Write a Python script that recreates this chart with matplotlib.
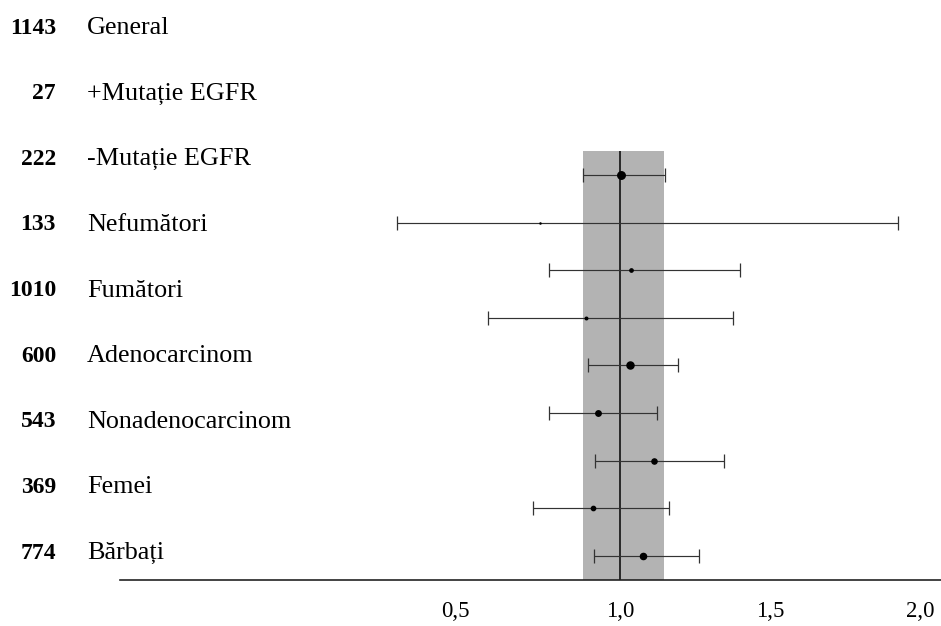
import matplotlib
matplotlib.use("Agg")
import matplotlib.pyplot as plt
import numpy as np

# ---- data ----
categories = ["General", "+Mutație EGFR", "-Mutație EGFR", "Nefumători", "Fumători",
              "Adenocarcinom", "Nonadenocarcinom", "Femei", "Bărbați"]
n_patients = [1143, 27, 222, 133, 1010, 600, 543, 369, 774]
hr = [1.005, 0.733, 1.037, 0.885, 1.033, 0.926, 1.113, 0.911, 1.075]
ci_low = [0.877, 0.256, 0.763, 0.561, 0.893, 0.763, 0.917, 0.710, 0.912]
ci_high = [1.149, 1.925, 1.400, 1.376, 1.192, 1.123, 1.346, 1.162, 1.263]
overall_band = [0.877, 1.147]
tick_values = [0.5, 1.0, 1.5, 2.0]
tick_labels = ["0,5", "1,0", "1,5", "2,0"]

plt.rcParams["font.family"] = ["Liberation Serif", "DejaVu Serif"]

W, H = 941, 626
fig = plt.figure(figsize=(W / 100, H / 100), dpi=100)

# label column axes
lab = fig.add_axes([0, 46 / H, 120 / W, 1 - 46 / H])
lab.set_axis_off()
lab.patch.set_visible(False)
lab.set_xlim(0, 120)
lab.set_ylim(8.41, -0.427)
for j, (cat, n) in enumerate(zip(categories, n_patients)):
    lab.text(56, j, str(n), ha="right", va="center", fontsize=17,
             fontweight="bold", color="black")
    lab.text(87, j, cat, ha="left", va="center", fontsize=18.8, color="black")

# plot axes
ax = fig.add_axes([120 / W, 46 / H, 1 - 120 / W, 1 - 46 / H])
ax.patch.set_visible(False)
xlo = (120 - 620) / 300 + 1
xhi = (941 - 620) / 300 + 1
ax.set_xlim(xlo, xhi)
ybot, ytop = 8.508, -3.676
ax.set_ylim(ybot, ytop)

ax.fill_betweenx([-0.5, ybot], overall_band[0], overall_band[1],
                 color="#b3b3b3", lw=0, zorder=1)
ax.vlines(1.0, -0.5, ybot, color="#111111", lw=1.2, zorder=2)

for i in range(len(categories)):
    ax.errorbar(hr[i], i,
                xerr=[[hr[i] - ci_low[i]], [ci_high[i] - hr[i]]],
                fmt="o", ms=0.16 * np.sqrt(n_patients[i]),
                color="black", ecolor="#333333", elinewidth=0.85,
                capsize=5, capthick=0.9, zorder=3)

for s in ["top", "right", "left"]:
    ax.spines[s].set_visible(False)
ax.spines["bottom"].set_color("#222222")
ax.spines["bottom"].set_linewidth(1.2)
ax.set_yticks([])
ax.set_xticks(tick_values)
ax.set_xticklabels(tick_labels, fontsize=16.5)
ax.tick_params(axis="x", length=0, pad=15)
ax.get_xticklabels()[0].set_horizontalalignment("right")

fig.savefig("out.png", dpi=100)
